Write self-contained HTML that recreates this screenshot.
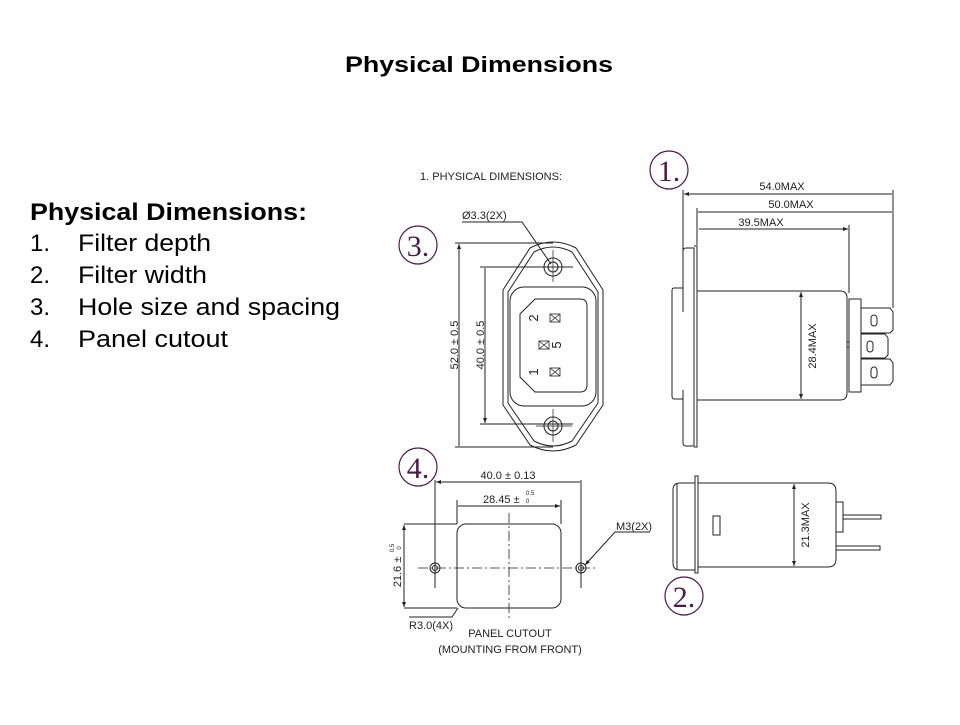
<!DOCTYPE html>
<html><head><meta charset="utf-8"><style>
body{margin:0;background:#fff;width:960px;height:720px;overflow:hidden;font-family:"Liberation Sans",Arial,sans-serif;}
</style></head><body>
<svg width="960" height="720" viewBox="0 0 960 720" xmlns="http://www.w3.org/2000/svg" font-family="Liberation Sans, Arial, sans-serif">
<defs>
<marker id="a" viewBox="0 0 10 10" refX="10" refY="5" markerWidth="7" markerHeight="5" orient="auto-start-reverse"><path d="M0,1 L10,5 L0,9 z" fill="#222"/></marker>
</defs>
<text x="345" y="72" font-size="22" font-weight="bold" textLength="268" lengthAdjust="spacingAndGlyphs">Physical Dimensions</text>
<g font-size="24" fill="#000">
<text x="30" y="220" font-weight="bold" textLength="277" lengthAdjust="spacingAndGlyphs">Physical Dimensions:</text>
<text x="30" y="251">1.</text><text x="78" y="251" textLength="133" lengthAdjust="spacingAndGlyphs">Filter depth</text>
<text x="30" y="283">2.</text><text x="78" y="283" textLength="129" lengthAdjust="spacingAndGlyphs">Filter width</text>
<text x="30" y="315">3.</text><text x="78" y="315" textLength="262" lengthAdjust="spacingAndGlyphs">Hole size and spacing</text>
<text x="30" y="347">4.</text><text x="78" y="347" textLength="150" lengthAdjust="spacingAndGlyphs">Panel cutout</text>
</g>
<g fill="none" stroke="#4a1a4a" stroke-width="1.2">
<circle cx="418" cy="245" r="19"/><circle cx="669" cy="170" r="19"/>
<circle cx="418" cy="467" r="19"/><circle cx="684" cy="596" r="19"/>
</g>
<g font-family="Liberation Serif, serif" font-size="30" fill="#4a1a4a" text-anchor="middle">
<text x="418" y="256">3.</text><text x="669" y="181">1.</text>
<text x="418" y="478">4.</text><text x="684" y="607">2.</text>
</g>
<g font-size="11" fill="#222">
<text x="420" y="180">1. PHYSICAL DIMENSIONS:</text>
<text x="462" y="219">Ø3.3(2X)</text>
<text x="782" y="190" text-anchor="middle">54.0MAX</text>
<text x="791" y="208" text-anchor="middle">50.0MAX</text>
<text x="761" y="226" text-anchor="middle">39.5MAX</text>
<text transform="translate(816,346) rotate(-90)" text-anchor="middle">28.4MAX</text>
<text transform="translate(458,345) rotate(-90)" text-anchor="middle">52.0 ± 0.5</text>
<text transform="translate(484,345) rotate(-90)" text-anchor="middle">40.0 ± 0.5</text>
<text x="508" y="479" text-anchor="middle">40.0 ± 0.13</text>
<text x="483" y="503">28.45 ±</text><text x="526" y="495" font-size="6">0.5</text><text x="526" y="503" font-size="6">0</text>
<text transform="translate(401,572) rotate(-90)" text-anchor="middle">21.6 ±</text>
<text transform="translate(394,548) rotate(-90)" text-anchor="middle" font-size="6">0.5</text>
<text transform="translate(401,548) rotate(-90)" text-anchor="middle" font-size="6">0</text>
<text x="616" y="530">M3(2X)</text>
<text x="409" y="629">R3.0(4X)</text>
<text x="510" y="637" text-anchor="middle">PANEL CUTOUT</text>
<text x="510" y="653" text-anchor="middle">(MOUNTING FROM FRONT)</text>
<text transform="translate(809,525) rotate(-90)" text-anchor="middle">21.3MAX</text>
<g font-size="13">
<text transform="translate(538,318) rotate(-90)" text-anchor="middle">2</text>
<text transform="translate(538,372) rotate(-90)" text-anchor="middle">1</text>
<text transform="translate(561,345) rotate(-90)" text-anchor="middle">5</text>
</g>
</g>
<g fill="none" stroke="#222" stroke-width="1">
<path d="M462,222 H522 L551,264"/>
<path d="M530,248 Q553,236 576,248 L603,290 V405 L576,445 Q553,457 530,445 L503,405 V290 Z"/>
<path d="M534,252 Q553,242 572,252 L598,292 V403 L572,441 Q553,451 534,441 L508,403 V292 Z"/>
<rect x="510" y="287" width="86" height="119" rx="14"/>
<path d="M535,299 H580 Q587,299 587,306 V385 Q587,392 580,392 H535 L520,377 V314 Z"/>
<circle cx="553" cy="267" r="9"/><circle cx="553" cy="267" r="5"/>
<circle cx="553" cy="426" r="9"/><circle cx="553" cy="426" r="5"/>
<path d="M553,250 V282 M536,267 H572 M553,409 V442 M536,426 H572" stroke-width="0.7"/>
<path d="M455,243 H553 M455,447 H553 M480,267 H573 M480,424 H573"/>
<path d="M459,244 V446 M485,268 V423" marker-start="url(#a)" marker-end="url(#a)"/>
<g stroke-width="0.8">
<rect x="550" y="314" width="10" height="8"/><path d="M550,314 L560,322 M560,314 L550,322"/>
<rect x="539" y="341" width="10" height="8"/><path d="M539,341 L549,349 M549,341 L539,349"/>
<rect x="550" y="368" width="10" height="8"/><path d="M550,368 L560,376 M560,368 L550,376"/>
</g>
<path d="M683,190 V312 M697,208 V245 M893,190 V308 M849,225 V293"/>
<path d="M684,194 H892 M698,212 H892 M699,229 H848" marker-start="url(#a)" marker-end="url(#a)"/>
<path d="M686,248 H694 V446 H686 Q683,446 683,443 V390 M683,310 V251 Q683,248 686,248"/>
<path d="M694,246 H697 V447 H694"/>
<path d="M683,288 H674 Q672,288 672,291 V396 Q672,399 674,399 H683"/>
<path d="M697,291 H840 Q847,291 847,298 V393 Q847,400 840,400 H697"/>
<rect x="849" y="299" width="12" height="93"/>
<path d="M861,308 H890 L893,312 V330 L890,333 H861 M861,334 H885 L888,338 V355 L885,358 H861 M861,359 H890 L893,363 V381 L890,385 H861"/>
<rect x="871" y="315" width="6" height="11" rx="3"/><rect x="867" y="341" width="6" height="11" rx="3"/><rect x="871" y="367" width="6" height="11" rx="3"/>
<path d="M847,342 H849 M847,347 H849"/>
<path d="M801,292 V399" marker-start="url(#a)" marker-end="url(#a)"/>
<path d="M435,480 V588 M581,480 V588 M457,500 V524 M561,500 V524"/>
<path d="M436,482 H580 M458,506 H560" marker-start="url(#a)" marker-end="url(#a)"/>
<rect x="457" y="524" width="104" height="84" rx="9"/>
<path d="M404,524 H457 M404,608 H457"/>
<path d="M404,525 V607" marker-start="url(#a)" marker-end="url(#a)"/>
<path d="M418,568 H598 M509,513 V620" stroke-dasharray="10,3,2,3" stroke-width="0.8"/>
<circle cx="435" cy="568" r="5"/><circle cx="435" cy="568" r="2.5"/>
<circle cx="581" cy="568" r="5"/><circle cx="581" cy="568" r="2.5"/>
<path d="M650,532 H615 L585,565" marker-end="url(#a)"/>
<path d="M409,617 H452 L458,608"/>
<path d="M680,483 H695 V570 H680 Q673,570 673,563 V490 Q673,483 680,483 Z"/>
<path d="M677,483 V570"/>
<rect x="695" y="476" width="3" height="97"/>
<path d="M698,483 H828 Q836,483 836,491 V559 Q836,567 828,567 H698"/>
<rect x="713" y="516" width="7" height="19"/>
<rect x="836" y="502" width="7" height="30"/>
<path d="M843,515 H881 V519 H843 M836,546 H880 V550 H836"/>
<path d="M794,484 V566" marker-start="url(#a)" marker-end="url(#a)"/>
</g>
</svg>
</body></html>
